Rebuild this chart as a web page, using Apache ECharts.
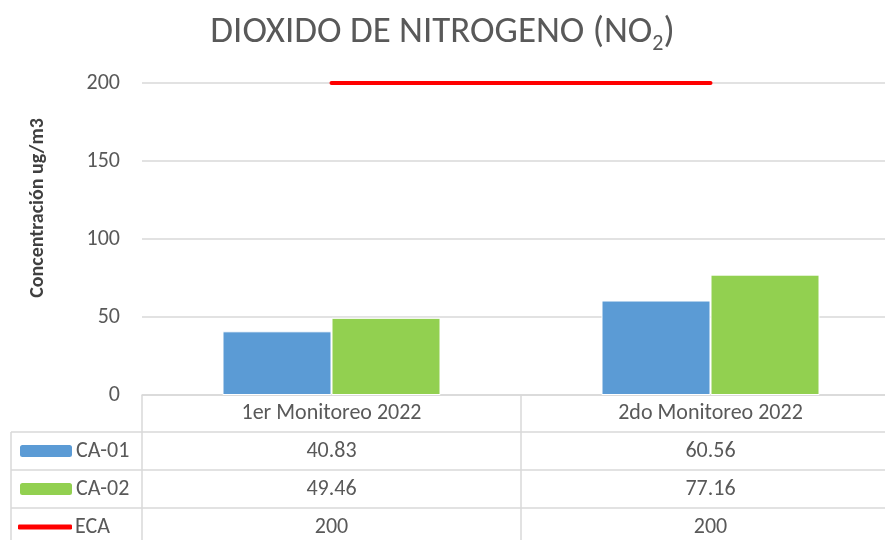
<!DOCTYPE html>
<html>
<head>
<meta charset="utf-8">
<script src="https://cdn.jsdelivr.net/npm/echarts@6/dist/echarts.min.js"></script>
<style>
  html, body { margin: 0; padding: 0; background: #fff; }
  #chart { width: 885px; height: 540px; }
</style>
</head>
<body>
<div id="chart"></div>
<script>
var categories = ['1er Monitoreo 2022', '2do Monitoreo 2022'];
var ca01 = [40.83, 60.56];
var ca02 = [49.46, 77.16];
var eca = [200, 200];
var seriesNames = ['CA-01', 'CA-02', 'ECA'];
var tableRows = [ca01, ca02, eca];

var FONT = 'Carlito, Lato, sans-serif';
var TXT = '#595959';
var LINE = '#D9D9D9';

// layout of plot + data table
var gridLeft = 142, gridTop = 83, gridHeight = 312, gridWidth = 758;
var rowY = [395, 432, 470, 508, 546];
var tableLeft = 11, midX = 521;

var myChart = echarts.init(document.getElementById('chart'));

// one extra x axis per table row, labels read from the row arrays
var xAxes = [{
    type: 'category',
    data: categories,
    axisLine: { show: true, lineStyle: { color: LINE, width: 1.5 } },
    axisTick: { show: false },
    axisLabel: { color: TXT, fontFamily: FONT, fontSize: 22, margin: (rowY[1] - rowY[0]) / 2, verticalAlign: 'middle' }
}];
tableRows.forEach(function (row, r) {
    xAxes.push({
        type: 'category',
        data: categories,
        position: 'bottom',
        axisLine: { show: false },
        axisTick: { show: false },
        splitLine: { show: false },
        axisLabel: {
            color: TXT, fontFamily: FONT, fontSize: 22, verticalAlign: 'middle',
            margin: (rowY[r + 1] + rowY[r + 2]) / 2 - rowY[0],
            formatter: function (v, i) { return String(row[i]); }
        }
    });
});

var tableLines = [];
function hline(y, x1) {
    tableLines.push({ type: 'line', shape: { x1: x1, y1: y, x2: 885, y2: y }, style: { stroke: LINE, lineWidth: 1.5 } });
}
function vline(x, y1) {
    tableLines.push({ type: 'line', shape: { x1: x, y1: y1, x2: x, y2: 540 }, style: { stroke: LINE, lineWidth: 1.5 } });
}
hline(rowY[1], tableLeft); hline(rowY[2], tableLeft); hline(rowY[3], tableLeft);
vline(tableLeft, rowY[1]); vline(gridLeft, rowY[0]); vline(midX, rowY[0]);

tableLines.push({
    type: 'text', x: 38, y: 208, rotation: Math.PI / 2,
    style: { text: 'Concentración ug/m3', fill: '#404040', font: 'bold 20px ' + FONT, align: 'center', verticalAlign: 'middle' }
});

var legends = seriesNames.map(function (name, i) {
    return {
        data: [i < 2 ? name : { name: name, icon: 'roundRect' }],
        left: 18,
        top: (rowY[i + 1] + rowY[i + 2]) / 2 - 11,
        itemWidth: 54,
        itemHeight: i < 2 ? 14 : 5,
        itemGap: 0,
        padding: 0,
        textStyle: { color: TXT, fontFamily: FONT, fontSize: 22, padding: [0, 0, 0, -2] }
    };
});

var option = {
    animation: false,
    title: {
        text: '{a|DIOXIDO DE NITROGENO (NO}{b|2}{a|)}',
        left: 'center',
        top: 6,
        textStyle: {
            rich: {
                a: { fontFamily: FONT, fontSize: 37, color: TXT, lineHeight: 44, fontWeight: 300 },
                b: { fontFamily: FONT, fontSize: 22, color: TXT, lineHeight: 44, verticalAlign: 'bottom', fontWeight: 300 }
            }
        }
    },
    legend: legends,
    grid: { left: gridLeft, top: gridTop, width: gridWidth, height: gridHeight, containLabel: false, outerBoundsMode: 'none' },
    xAxis: xAxes,
    yAxis: {
        type: 'value',
        min: 0,
        max: 200,
        interval: 50,
        axisLine: { show: false },
        axisTick: { show: false },
        axisLabel: { color: TXT, fontFamily: FONT, fontSize: 22, margin: 22 },
        splitLine: { lineStyle: { color: LINE, width: 1.5 } }
    },
    graphic: tableLines,
    series: [
        {
            name: 'CA-01', type: 'bar', data: ca01, barWidth: 109, barGap: '0%',
            itemStyle: { color: '#5B9BD5', borderColor: '#fff', borderWidth: 1 }
        },
        {
            name: 'CA-02', type: 'bar', data: ca02, barWidth: 109, barGap: '0%',
            itemStyle: { color: '#92D050', borderColor: '#fff', borderWidth: 1 }
        },
        {
            name: 'ECA', type: 'line', data: eca, symbol: 'none', z: 5,
            itemStyle: { color: '#FF0000' },
            lineStyle: { color: '#FF0000', width: 4, cap: 'round' }
        }
    ]
};

myChart.setOption(option);
</script>
</body>
</html>
